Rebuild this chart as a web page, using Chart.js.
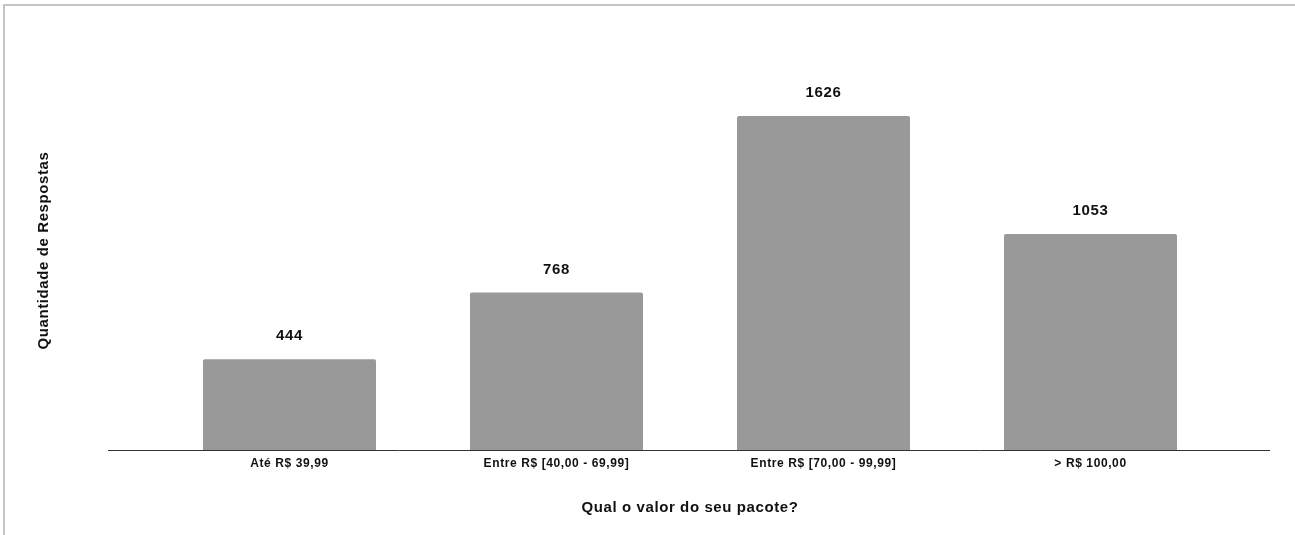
<!DOCTYPE html>
<html>
<head>
<meta charset="utf-8">
<script src="https://cdn.jsdelivr.net/npm/chart.js@4.4.0/dist/chart.umd.min.js"></script>
<style>
  html, body { margin: 0; padding: 0; background: #fff; }
  #wrap { position: relative; width: 1295px; height: 535px; }
  #frame { position: absolute; left: 3px; top: 4px; right: 0; bottom: 0; border-top: 2px solid #c4c4c4; border-left: 2px solid #c4c4c4; }
  canvas { position: absolute; left: 0; top: 0; }
</style>
</head>
<body>
<div id="wrap">
  <div id="frame"></div>
  <canvas id="c" width="1295" height="535"></canvas>
</div>
<script>
const categories = ["Até R$ 39,99", "Entre R$ [40,00 - 69,99]", "Entre R$ [70,00 - 99,99]", "> R$ 100,00"];
const respostas = [444, 768, 1626, 1053];
const xTitle = "Qual o valor do seu pacote?";
const yTitle = "Quantidade de Respostas";

const FONT = "'Liberation Sans', Arial, sans-serif";
const SPACING = '0.6px';

const spacingPlugin = {
  id: 'spacing',
  beforeLayout(chart) { chart.ctx.letterSpacing = SPACING; },
  beforeDraw(chart) { chart.ctx.letterSpacing = SPACING; }
};

const extrasPlugin = {
  id: 'extras',
  afterDatasetsDraw(chart) {
    const ctx = chart.ctx;
    const y0 = chart.scales.y.getPixelForValue(0);
    ctx.save();
    ctx.letterSpacing = SPACING;
    ctx.strokeStyle = '#333333';
    ctx.lineWidth = 1;
    ctx.beginPath();
    ctx.moveTo(108, Math.round(y0) - 0.5);
    ctx.lineTo(1270, Math.round(y0) - 0.5);
    ctx.stroke();
    const meta = chart.getDatasetMeta(0);
    ctx.fillStyle = '#111111';
    ctx.font = "bold 15px " + FONT;
    ctx.textAlign = 'center';
    ctx.textBaseline = 'middle';
    meta.data.forEach((bar, i) => {
      ctx.fillText(String(respostas[i]), bar.x, bar.y - 23);
    });
    // y axis title
    ctx.translate(43.5, 250.5);
    ctx.rotate(-Math.PI / 2);
    ctx.fillText(yTitle, 0, 0);
    ctx.restore();
  }
};

new Chart(document.getElementById('c'), {
  type: 'bar',
  data: {
    labels: categories,
    datasets: [{
      data: respostas,
      backgroundColor: '#999999',
      borderRadius: 2,
      borderSkipped: 'bottom',
      categoryPercentage: 1,
      barPercentage: 0.648
    }]
  },
  options: {
    responsive: false,
    animation: false,
    events: [],
    layout: { padding: { left: 156, right: 71, top: 39, bottom: 17 } },
    plugins: { legend: { display: false }, tooltip: { enabled: false } },
    scales: {
      x: {
        grid: { display: false, drawTicks: false, tickLength: 0 },
        border: { display: false },
        ticks: { color: '#111', font: { family: FONT, size: 12, weight: 'bold' }, padding: 6, maxRotation: 0 },
        title: { display: true, text: xTitle, color: '#111', font: { family: FONT, size: 15, weight: 'bold' }, padding: { top: 22, bottom: 1 } }
      },
      y: {
        display: false,
        min: 0, max: 2000
      }
    }
  },
  plugins: [spacingPlugin, extrasPlugin]
});
</script>
</body>
</html>
